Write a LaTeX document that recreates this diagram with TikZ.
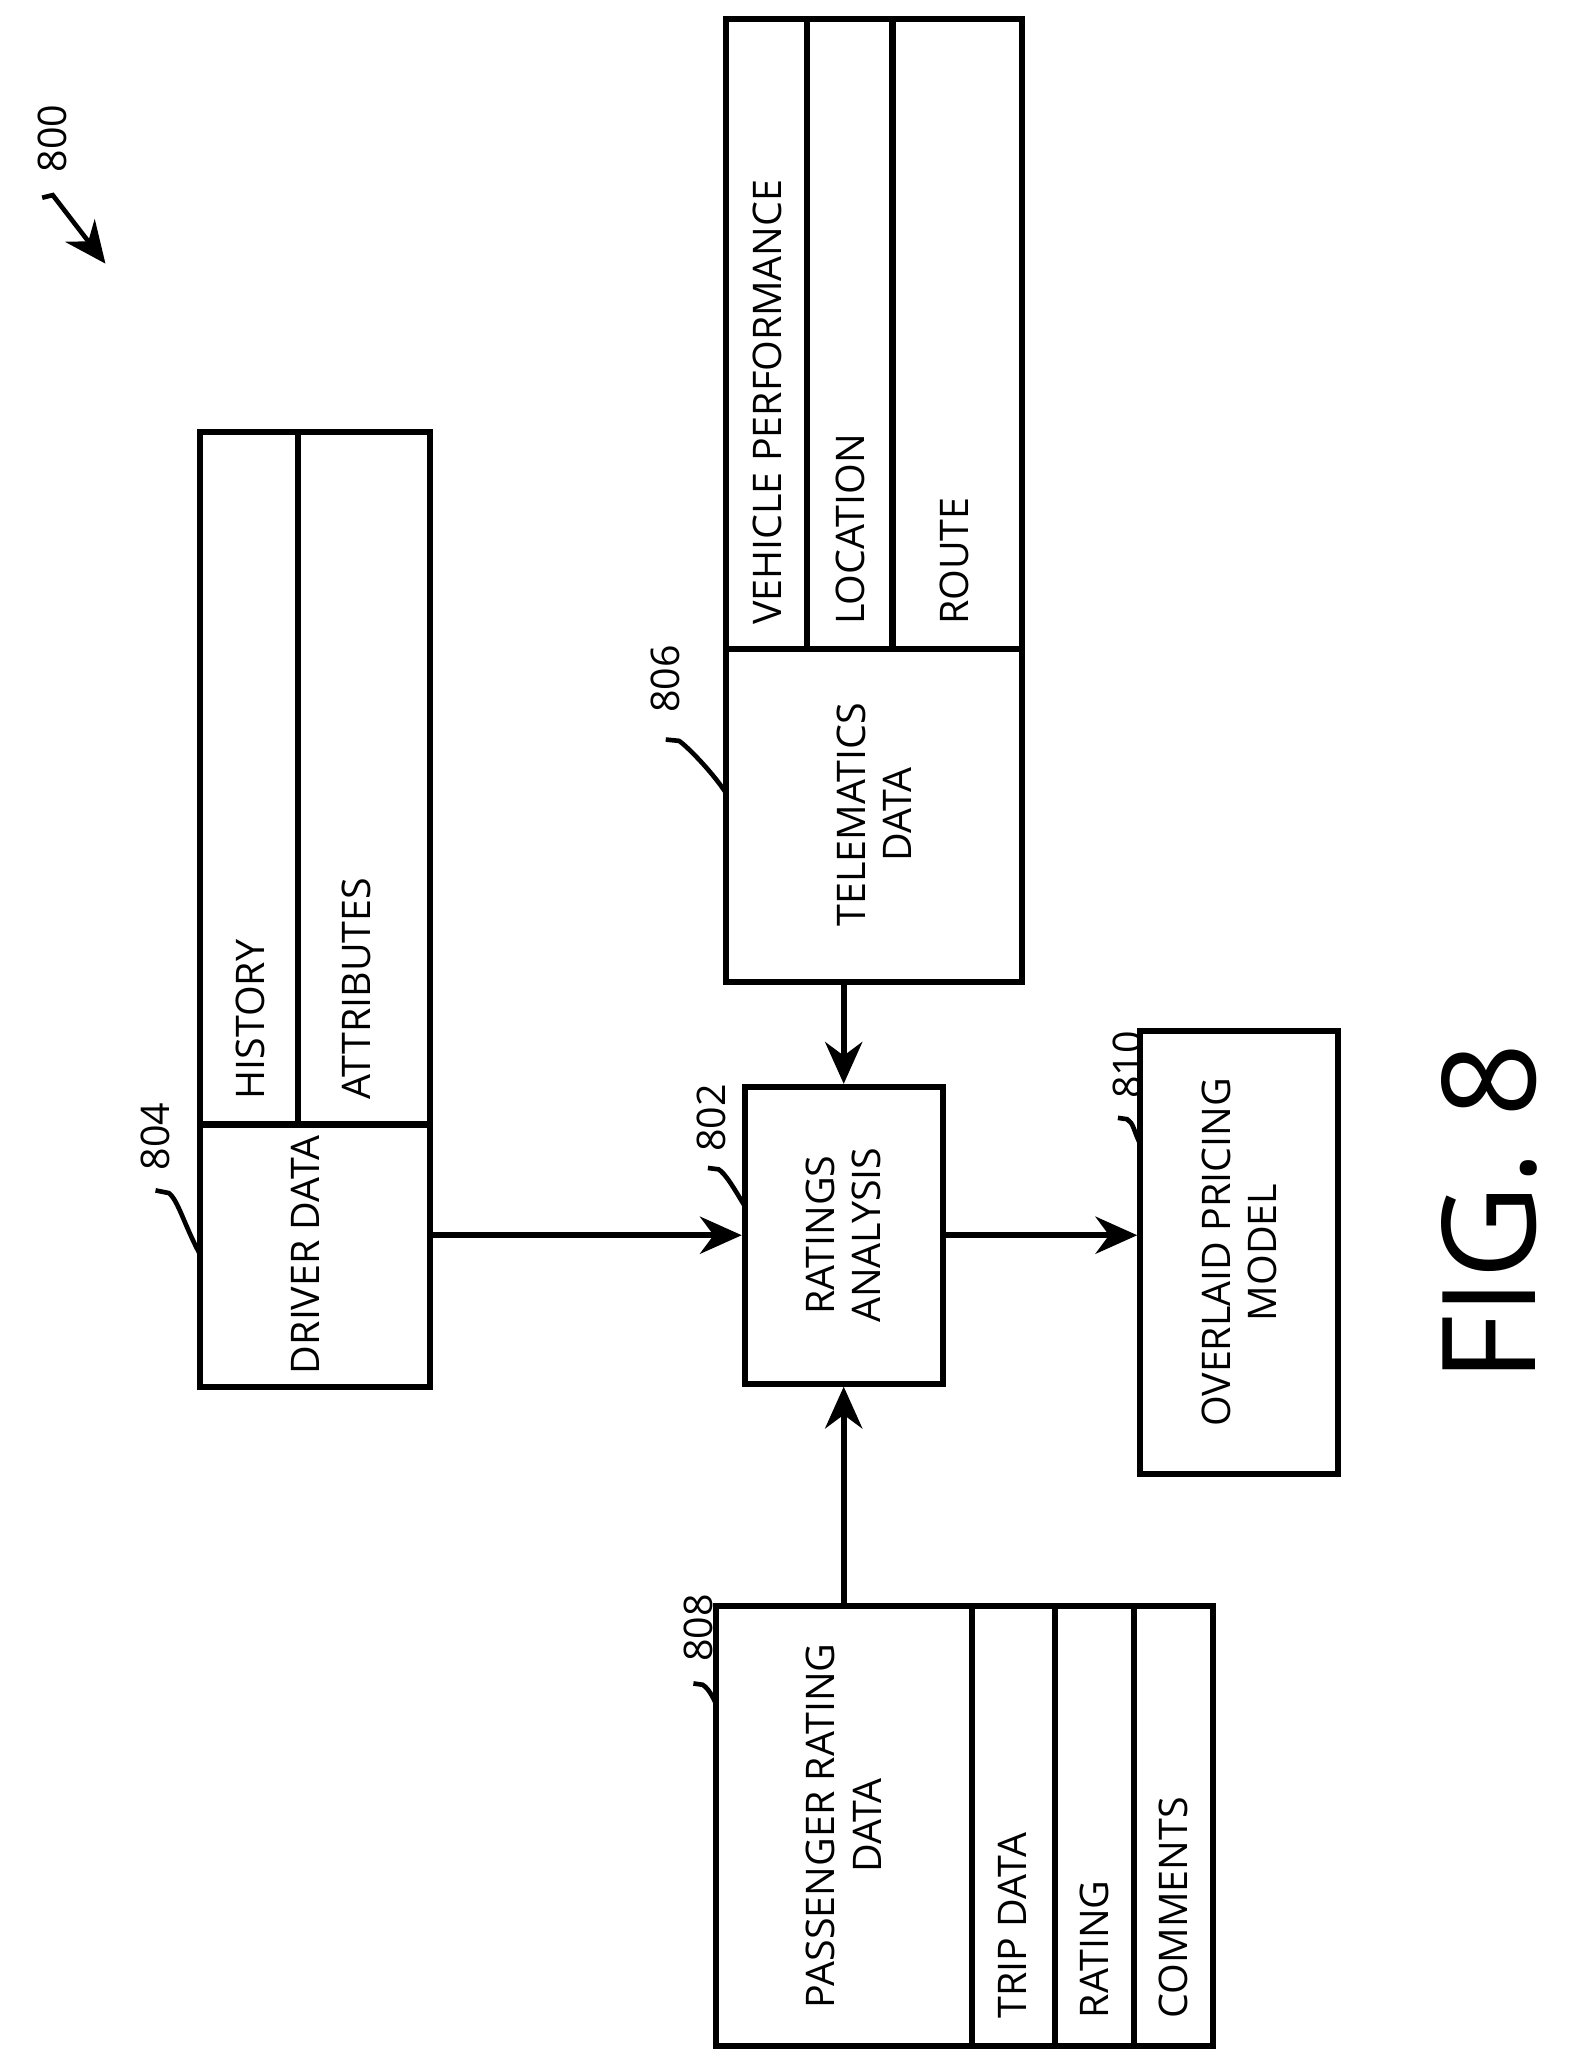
\documentclass[tikz,border=0pt]{standalone}
\usepackage{fontspec}
\setmainfont{Open Sans}
\usetikzlibrary{arrows.meta}
\begin{document}
\begin{tikzpicture}[x=0.01cm,y=-0.01cm,line width=1.3pt,
  box/.style={draw,rectangle,inner sep=0pt},
  lbl/.style={rotate=90,font=\fontsize{8.5}{10}\selectfont,align=center},
  num/.style={rotate=90,font=\fontsize{8.5}{10}\selectfont},
  flow/.style={-{Stealth[length=9pt,width=8pt]}},
  lead/.style={line width=1pt}]
\useasboundingbox (0,0) rectangle (1190,1571);
% blocks
\node[box,minimum width=1.74cm,minimum height=7.24cm] (drv) at (239,690) {};
\node[box,minimum width=2.24cm,minimum height=7.30cm] (tel) at (663,380) {};
\node[box,minimum width=1.50cm,minimum height=2.25cm] (rat) at (640,937) {};
\node[box,minimum width=1.50cm,minimum height=3.36cm] (pri) at (940,950) {};
\node[box,minimum width=3.77cm,minimum height=3.34cm] (pas) at (731.5,1385) {};
% fields
\draw (152,853) -- (326,853) (226,328) -- (226,853);
\draw (551,492) -- (775,492) (612,15) -- (612,492) (677,15) -- (677,492);
\draw (737,1218) -- (737,1552) (800,1218) -- (800,1552) (860,1218) -- (860,1552);
% texts
\node[lbl] (drvt) at (232,952) {DRIVER DATA};
\node[lbl,anchor=west] (hist) at (190,848) {HISTORY};
\node[lbl,anchor=west] (attr) at (270,848) {ATTRIBUTES};
\node[lbl] (telt) at (663,618) {TELEMATICS\\DATA};
\node[lbl,anchor=west] (perf) at (582,488) {VEHICLE PERFORMANCE};
\node[lbl,anchor=west] (loc) at (645,488) {LOCATION};
\node[lbl,anchor=west] (rte) at (724,488) {ROUTE};
\node[lbl] (ratt) at (640,937) {RATINGS\\ANALYSIS};
\node[lbl] (prit) at (940,950) {OVERLAID PRICING\\MODEL};
\node[lbl] (past) at (640,1385) {PASSENGER RATING\\DATA};
\node[lbl,anchor=west] (trip) at (768,1545) {TRIP DATA};
\node[lbl,anchor=west] (rtg) at (830,1545) {RATING};
\node[lbl,anchor=west] (com) at (890,1545) {COMMENTS};
% connectors
\draw[flow] (drv.east |- rat.west) -- (rat.west);
\draw[flow] (tel.south -| rat.north) -- (rat.north);
\draw[flow] (pas.north -| rat.south) -- (rat.south);
\draw[flow] (rat.east) -- (rat.east -| pri.west);
% reference numerals
\node[num] (n804) at (118,862) {804};
\node[num] (n806) at (505,515) {806};
\node[num] (n802) at (540,848) {802};
\node[num] (n810) at (855,808) {810};
\node[num] (n808) at (530,1235) {808};
\node[num] (n800) at (40,105) {800};
\node[font=\fontsize{28}{30}\selectfont,rotate=90] (fig) at (1130,920) {FIG. 8};
\draw[lead] (152,952) .. controls (140,930) and (135,910) .. (128,905) -- (118,903);
\draw[lead] (551,602) .. controls (540,585) and (520,565) .. (515,562) -- (505,561);
\draw[lead] (565,915) .. controls (556,900) and (550,890) .. (545,887) -- (537,886);
\draw[lead] (865,868) .. controls (860,858) and (860,852) .. (855,849) -- (848,848);
\draw[lead] (543,1292) .. controls (538,1282) and (536,1280) .. (533,1278) -- (526,1277);
\draw[lead,-{Stealth[length=9pt,width=8pt]}] (32,150) -- (40,148) -- (80,200);
\end{tikzpicture}
\end{document}
